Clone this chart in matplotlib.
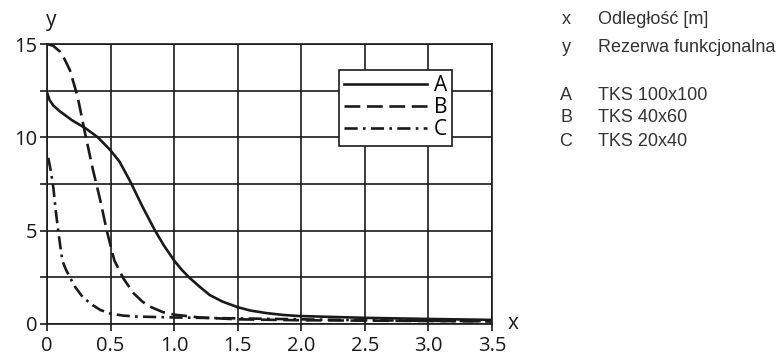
import matplotlib

matplotlib.use("Agg")

from matplotlib import pyplot as plt
from matplotlib.ticker import FuncFormatter, MultipleLocator

# curve A: TKS 100x100
a_x = [0.0, 0.02, 0.05, 0.1, 0.2, 0.3, 0.4, 0.5, 0.57, 0.65, 0.75, 0.85, 0.92, 1.0, 1.06, 1.125, 1.2, 1.28,
       1.38, 1.5, 1.6, 1.73, 1.85, 1.97, 2.5, 3.0, 3.5]
a_y = [12.4, 12.0, 11.7, 11.4, 10.9, 10.5, 10.0, 9.3, 8.7, 7.7, 6.3, 5.0, 4.2, 3.4, 2.9, 2.45, 2.0, 1.55,
       1.2, 0.9, 0.72, 0.58, 0.49, 0.43, 0.33, 0.27, 0.22]

# curve B: TKS 40x60
b_x = [0.0, 0.05, 0.1, 0.13, 0.18, 0.24, 0.3, 0.36, 0.42, 0.47, 0.53, 0.6, 0.68, 0.75, 0.81, 0.91, 1.0, 1.2,
       1.5, 2.0, 2.5, 3.0, 3.5]
b_y = [15.0, 14.9, 14.6, 14.3, 13.6, 12.2, 10.2, 8.3, 6.6, 5.0, 3.4, 2.45, 1.65, 1.2, 0.93, 0.64, 0.5, 0.35,
       0.25, 0.2, 0.18, 0.16, 0.14]

# curve C: TKS 20x40
c_x = [0.01, 0.03, 0.05, 0.07, 0.09, 0.12, 0.15, 0.18, 0.22, 0.28, 0.35, 0.42, 0.5, 0.6, 0.7, 1.0, 1.5, 2.0,
       2.5, 3.0, 3.5]
c_y = [8.9, 8.2, 7.3, 6.0, 4.9, 3.4, 2.9, 2.5, 2.0, 1.45, 1.05, 0.75, 0.55, 0.45, 0.4, 0.35, 0.3, 0.25,
       0.2, 0.17, 0.15]

series_keys = ["A", "B", "C"]
series_names = ["TKS 100x100", "TKS 40x60", "TKS 20x40"]
axis_keys = ["x", "y"]
axis_names = ["Odległość [m]", "Rezerwa funkcjonalna"]

TICK_FONT = "Open Sans"
NOTE_FONT = "Liberation Sans"
INK = "#1a1a1a"

figure = plt.figure(figsize=(7.82, 3.56), dpi=100)
axis = figure.add_axes([0.0601, 0.0899, 0.5691, 0.7865])

line_width = 1.9
axis.plot(a_x, a_y, color=INK, linewidth=line_width, linestyle="-", label="A")
axis.plot(b_x, b_y, color=INK, linewidth=line_width, linestyle=(0, (6, 2.5)), label="B")
axis.plot(c_x, c_y, color=INK, linewidth=line_width, linestyle=(0, (5, 2, 1, 2)), label="C")

axis.set_xlim(0, 3.5)
axis.set_ylim(0, 15)
axis.xaxis.set_major_locator(MultipleLocator(0.5))
axis.xaxis.set_major_formatter(FuncFormatter(lambda v, _: f"{v:.1f}" if abs(v) > 1e-9 else "0"))
axis.yaxis.set_major_locator(MultipleLocator(5))
axis.yaxis.set_minor_locator(MultipleLocator(2.5))
axis.grid(which="both", color=INK, linewidth=1.2)
axis.tick_params(which="both", direction="out", length=5, width=1.2, color=INK,
                 labelsize=14.5, pad=2)
axis.tick_params(axis="x", pad=3.5)
for label in axis.get_xticklabels() + axis.get_yticklabels():
    label.set_fontfamily(TICK_FONT)
    label.set_color(INK)
for spine in axis.spines.values():
    spine.set_linewidth(1.2)
    spine.set_color(INK)

axis.text(0.01, 1.045, "y", transform=axis.transAxes, fontsize=15, family=TICK_FONT, color=INK,
          ha="center", va="bottom")
axis.text(1.047, 0.0, "x", transform=axis.transAxes, fontsize=15, family=TICK_FONT, color=INK,
          ha="center", va="center")

legend = axis.legend(loc="upper left", bbox_to_anchor=(0.656, 0.907), fancybox=False, framealpha=1,
                     edgecolor=INK, handlelength=4.0, handletextpad=0.3, borderpad=0.25,
                     labelspacing=0.05, prop={"family": TICK_FONT, "size": 15}, borderaxespad=0)
legend.get_frame().set_linewidth(1.2)

# explanatory notes on the right
note_rows = [20, 47, 95, 118, 142]
note_keys = axis_keys + series_keys
note_texts = axis_names + series_names
for row, key, text in zip(note_rows, note_keys, note_texts):
    y = 1 - row / 356
    figure.text(566 / 782, y, key, fontsize=13, family=NOTE_FONT, color="#333333", ha="center", va="center")
    figure.text(598 / 782, y, text, fontsize=13, family=NOTE_FONT, color="#333333", ha="left", va="center")

figure.savefig("out.png", dpi=100)
plt.close(figure)
